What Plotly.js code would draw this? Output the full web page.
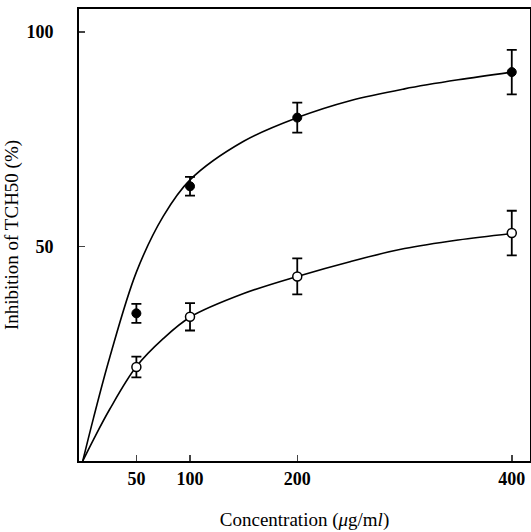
<!DOCTYPE html>
<html>
<head>
<script src="https://cdn.plot.ly/plotly-3.0.1.min.js"></script>
<style>body{margin:0;background:#fff}</style>
</head>
<body>
<div id="chart" style="width:531px;height:532px"></div>
<script>
// measured points
var conc = [50, 100, 200, 400];
var filledY = [34.4, 64.0, 80.0, 90.6];
var filledErr = [2.2, 2.2, 3.5, 5.2];
var openY = [21.9, 33.6, 43.0, 53.1];
var openErr = [2.4, 3.2, 4.2, 5.2];

// fitted curves
var curveX = [0, 10, 25, 50, 75, 100, 150, 200, 250, 300, 350, 400];
var filledCurve = [0, 10, 24, 44, 57, 65.5, 74.5, 80, 84, 86.7, 88.8, 90.6];
var openCurve = [0, 5, 12, 22, 28.5, 33.5, 39, 43, 46.5, 49.5, 51.5, 53];

var serif = 'Liberation Serif, DejaVu Serif, serif';

var traces = [
  {x: curveX, y: filledCurve, mode: 'lines', line: {color: '#000', width: 1.6, shape: 'spline'}, hoverinfo: 'skip'},
  {x: curveX, y: openCurve, mode: 'lines', line: {color: '#000', width: 1.6, shape: 'spline'}, hoverinfo: 'skip'},
  {x: conc, y: filledY, mode: 'markers',
   marker: {color: '#000', size: 9, line: {color: '#000', width: 1}},
   error_y: {type: 'data', array: filledErr, color: '#000', thickness: 1.8, width: 5}},
  {x: conc, y: openY, mode: 'markers',
   marker: {color: '#fff', size: 9, line: {color: '#000', width: 1.5}},
   error_y: {type: 'data', array: openErr, color: '#000', thickness: 1.8, width: 5}}
];

var layout = {
  width: 531, height: 532,
  margin: {l: 79, r: 1, t: 9, b: 71},
  showlegend: false,
  paper_bgcolor: '#fff', plot_bgcolor: '#fff',
  font: {family: serif, color: '#000', size: 18},
  xaxis: {
    range: [-3.5, 417], tickvals: conc, ticktext: ['50', '100', '200', '400'],
    ticks: 'inside', ticklen: 6, tickwidth: 1.5, showgrid: false, zeroline: false,
    showline: true, linecolor: '#000', linewidth: 2, mirror: true,
    tickfont: {family: serif, size: 18, weight: 'bold'},
    title: {text: 'Concentration (<i>μ</i>g/m<i>l</i>)', font: {family: serif, size: 19}, standoff: 25}
  },
  yaxis: {
    range: [0, 105.3], tickvals: [50, 100], ticktext: ['50', '100'],
    ticks: 'inside', ticklen: 6, tickwidth: 1.5, showgrid: false, zeroline: false,
    showline: true, linecolor: '#000', linewidth: 2, mirror: true, ticklabelstandoff: 20,
    tickfont: {family: serif, size: 18, weight: 'bold'},
    title: {text: 'Inhibition of TCH50 (%)', font: {family: serif, size: 19}, standoff: 3}
  }
};

Plotly.newPlot('chart', traces, layout, {displayModeBar: false, staticPlot: true});
</script>
</body>
</html>
